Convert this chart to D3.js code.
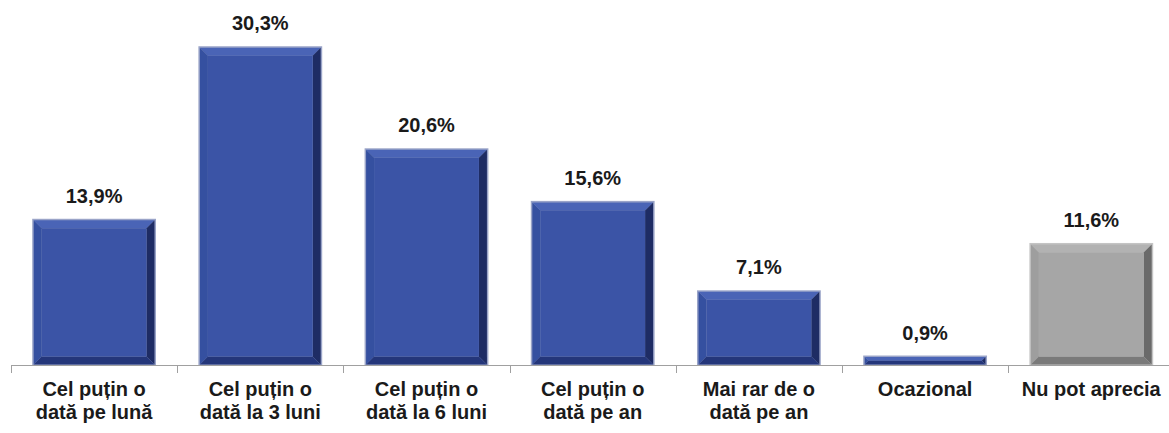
<!DOCTYPE html>
<html lang="ro">
<head>
<meta charset="UTF-8">
<title>Frecventa</title>
<script src="https://d3js.org/d3.v7.min.js"></script>
<style>
  body { margin: 0; background: #fff; }
  svg { display: block; font-family: Arial, "Liberation Sans", sans-serif; }
  .val { font-size: 20px; font-weight: bold; fill: #1a1a1a; }
  .cat { font-size: 20px; font-weight: bold; fill: #1a1a1a; }
</style>
</head>
<body>
<svg width="1169" height="433"></svg>
<script>
const categories = [
  ["Cel puțin o", "dată pe lună"],
  ["Cel puțin o", "dată la 3 luni"],
  ["Cel puțin o", "dată la 6 luni"],
  ["Cel puțin o", "dată pe an"],
  ["Mai rar de o", "dată pe an"],
  ["Ocazional"],
  ["Nu pot aprecia"]
];
const values = [13.9, 30.3, 20.6, 15.6, 7.1, 0.9, 11.6];
const valueLabels = ["13,9%", "30,3%", "20,6%", "15,6%", "7,1%", "0,9%", "11,6%"];
const isGray = [false, false, false, false, false, false, true];

const svg = d3.select("svg");
const baseY = 365;
const x = d3.scaleBand().domain(d3.range(values.length)).range([11, 11 + 166.2 * 7]).paddingInner(0.255).paddingOuter(0.1275);
const y = d3.scaleLinear().domain([0, 35]).range([baseY, baseY - 35 * 10.52]);

const palettes = {
  blue: { edge: "#9aa4c8", face: "#3b54a6", top: "#4a64b6", left: "#3550a0", right: "#1e2c64", bottom: "#24367a" },
  gray: { edge: "#c4c4c4", face: "#a6a6a6", top: "#b2b2b2", left: "#9e9e9e", right: "#6a6a6a", bottom: "#7a7a7a" }
};

const g = svg.append("g");
values.forEach((v, i) => {
  const p = isGray[i] ? palettes.gray : palettes.blue;
  const x0 = x(i), x1 = x(i) + x.bandwidth();
  const y0 = y(v), y1 = y(0);
  const b = Math.min(8, (y1 - y0) / 2 - 1, x.bandwidth() / 2);
  const bar = g.append("g");
  bar.append("rect").attr("x", x0).attr("y", y0).attr("width", x1 - x0).attr("height", y1 - y0).attr("fill", p.edge);
  const ix0 = x0 + 1.5, ix1 = x1 - 1.5, iy0 = y0 + 1.5, iy1 = y1 - 0.5;
  if (b > 1) {
    const poly = (pts, c) => bar.append("polygon").attr("points", pts.map(q => q.join(",")).join(" ")).attr("fill", c);
    poly([[ix0, iy0], [ix1, iy0], [ix1 - b, iy0 + b], [ix0 + b, iy0 + b]], p.top);
    poly([[ix0, iy0], [ix0 + b, iy0 + b], [ix0 + b, iy1 - b], [ix0, iy1]], p.left);
    poly([[ix1, iy0], [ix1, iy1], [ix1 - b, iy1 - b], [ix1 - b, iy0 + b]], p.right);
    poly([[ix0, iy1], [ix0 + b, iy1 - b], [ix1 - b, iy1 - b], [ix1, iy1]], p.bottom);
    bar.append("rect").attr("x", ix0 + b).attr("y", iy0 + b).attr("width", ix1 - ix0 - 2 * b).attr("height", Math.max(0, iy1 - iy0 - 2 * b)).attr("fill", p.face);
  } else {
    bar.append("rect").attr("x", ix0).attr("y", iy0).attr("width", ix1 - ix0).attr("height", Math.max(0, iy1 - iy0)).attr("fill", p.face);
  }
  g.append("text").attr("class", "val").attr("x", (x0 + x1) / 2).attr("y", y0 - 16)
    .attr("text-anchor", "middle").text(valueLabels[i]);
});

// axis
svg.append("line").attr("x1", 11).attr("x2", 1169).attr("y1", baseY + 0.5).attr("y2", baseY + 0.5)
  .attr("stroke", "#a0a0a0").attr("stroke-width", 1);
const step = x.step();
d3.range(values.length + 1).forEach(k => {
  const tx = Math.round(11 + k * step) + 0.5;
  svg.append("line").attr("x1", tx).attr("x2", tx).attr("y1", baseY).attr("y2", baseY + 8)
    .attr("stroke", "#a0a0a0").attr("stroke-width", 1);
});

categories.forEach((lines, i) => {
  const t = svg.append("text").attr("class", "cat").attr("text-anchor", "middle")
    .attr("x", x(i) + x.bandwidth() / 2).attr("y", 396);
  lines.forEach((ln, j) => t.append("tspan").attr("x", x(i) + x.bandwidth() / 2).attr("dy", j === 0 ? 0 : 23).text(ln));
});
</script>
</body>
</html>
